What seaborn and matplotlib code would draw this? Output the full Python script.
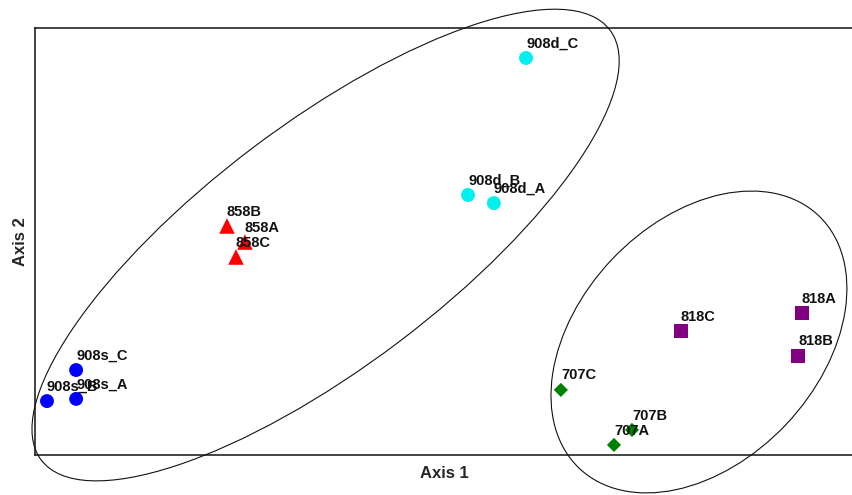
import matplotlib
matplotlib.use("Agg")
import matplotlib.pyplot as plt
from matplotlib.patches import Ellipse
import pandas as pd
import seaborn as sns

# NMDS ordination scores per sample
samples = ["908s_A", "908s_B", "908s_C",
           "858A", "858B", "858C",
           "908d_A", "908d_B", "908d_C",
           "818A", "818B", "818C",
           "707A", "707B", "707C"]
axis1 = [-1.349, -1.456, -1.349,
         -0.729, -0.795, -0.762,
         0.185, 0.090, 0.303,
         1.316, 1.302, 0.872,
         0.626, 0.692, 0.431]
axis2 = [-0.578, -0.586, -0.472,
         -0.002, 0.057, -0.057,
         0.141, 0.171, 0.674,
         -0.263, -0.420, -0.329,
         -0.747, -0.692, -0.545]
groups = ["908s"] * 3 + ["858"] * 3 + ["908d"] * 3 + ["818"] * 3 + ["707"] * 3

group_colors = {"908s": "#0000FF", "858": "#FF0000", "908d": "#00F0F0",
                "818": "#800080", "707": "#008000"}
group_markers = {"908s": "o", "858": "^", "908d": "o", "818": "s", "707": "D"}
group_sizes = {"908s": 100, "858": 125, "908d": 100, "818": 108, "707": 52}

# Cluster ellipses: centre x, centre y, width, height, angle (deg)
ell_cx = [-0.433, 0.938]
ell_cy = [-0.013, -0.369]
ell_w = [2.618, 1.278]
ell_h = [0.892, 0.881]
ell_angle = [37.1, 46.6]

df = pd.DataFrame({"sample": samples, "Axis 1": axis1, "Axis 2": axis2,
                   "group": groups})

sns.set_theme(style="white")
plt.rcParams["font.family"] = ["Liberation Sans", "DejaVu Sans"]

fig = plt.figure(figsize=(8.52, 4.95), dpi=100)
ax = fig.add_axes([35 / 852, 40 / 495, 818 / 852, 427 / 495])

sns.scatterplot(data=df, x="Axis 1", y="Axis 2", hue="group", style="group",
                size="group", palette=group_colors, markers=group_markers,
                sizes=group_sizes, linewidth=0, legend=False, ax=ax,
                zorder=3, clip_on=False)

for x, y, lab in zip(axis1, axis2, samples):
    ax.annotate(lab, (x, y), xytext=(0, 7.5), textcoords="offset points",
                ha="left", va="baseline", fontsize=10.5, fontweight="bold",
                color="#111111", zorder=4, annotation_clip=False)

for cx, cy, w, h, ang in zip(ell_cx, ell_cy, ell_w, ell_h, ell_angle):
    ax.add_patch(Ellipse((cx, cy), w, h, angle=ang, fill=False,
                         edgecolor="#111111", linewidth=0.8, clip_on=False,
                         zorder=2))

ax.set_xlim(-1.5, 1.5 + 1 / 272.33)
ax.set_ylim(-0.784, 0.784)
ax.set_xticks([])
ax.set_yticks([])
ax.set_xlabel("Axis 1", fontsize=12, fontweight="bold", labelpad=8)
ax.set_ylabel("Axis 2", fontsize=12, fontweight="bold", labelpad=5)
for side in ["left", "top", "bottom"]:
    ax.spines[side].set_color("#111111")
    ax.spines[side].set_linewidth(1.1)
ax.spines["right"].set_visible(False)

fig.savefig("out.png", dpi=100)
